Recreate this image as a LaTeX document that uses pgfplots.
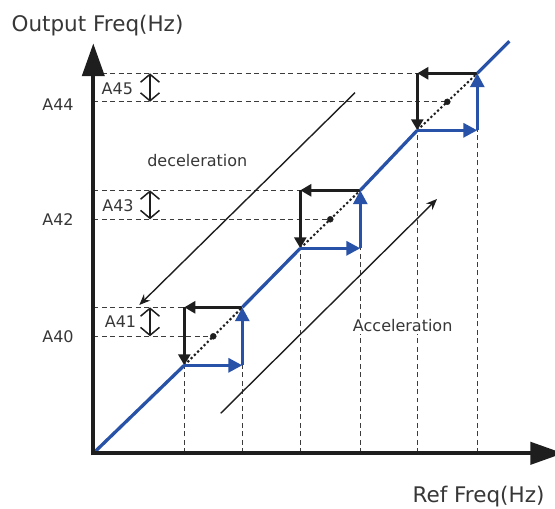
\documentclass[border=0pt]{standalone}
\usepackage{pgfplots}
\pgfplotsset{compat=1.18}
\usepackage{fontspec}
\setmainfont{DejaVu Sans}
\usetikzlibrary{arrows.meta}
\definecolor{blu}{RGB}{40,82,168}
\definecolor{txt}{RGB}{55,55,55}
\definecolor{dsh}{RGB}{60,60,60}
\definecolor{blk}{RGB}{30,30,30}
\tikzset{
 dashg/.style={dsh,line width=1.1pt,dash pattern=on 5pt off 3.5pt},
 bluseg/.style={blu,line width=3.3pt},
 bluarr/.style={blu,line width=3.3pt,-{Triangle[length=14pt,width=14pt]}},
 blkarr/.style={blk,line width=2.7pt,-{Triangle[length=11pt,width=12pt]}},
 dotl/.style={blk,line width=2pt,dash pattern=on 2.2pt off 2.4pt},
 dbl/.style={blk,line width=1.5pt,{Straight Barb[length=8pt,width=19pt]}-{Straight Barb[length=8pt,width=19pt]}},
 lbl/.style={font=\fontsize{16bp}{18bp}\selectfont,text=txt,inner sep=0pt,anchor=base},
 ttl/.style={font=\fontsize{21.5bp}{24bp}\selectfont,text=txt,inner sep=0pt,anchor=base},
}
\begin{document}
\begin{tikzpicture}
\begin{axis}[width=555bp,height=509bp,scale only axis,hide axis,clip=false,
 xmin=-93.3,xmax=461.7,ymin=-55.7,ymax=453.3]
\coordinate (bl) at (rel axis cs:0,0);
\coordinate (tr) at (rel axis cs:1,1);
% dashed guide lines
\addplot[dashg,forget plot] coordinates {(0,146) (91,146)};
\addplot[dashg,forget plot] coordinates {(0,117) (120,117)};
\addplot[dashg,forget plot] coordinates {(0,263) (207,263)};
\addplot[dashg,forget plot] coordinates {(0,234) (237,234)};
\addplot[dashg,forget plot] coordinates {(0,380) (324,380)};
\addplot[dashg,forget plot] coordinates {(0,351.5) (354,351.5)};
\addplot[dashg,forget plot] coordinates {(91,0) (91,88)};
\addplot[dashg,forget plot] coordinates {(149,0) (149,88)};
\addplot[dashg,forget plot] coordinates {(207,0) (207,205)};
\addplot[dashg,forget plot] coordinates {(267,0) (267,205)};
\addplot[dashg,forget plot] coordinates {(324,0) (324,323)};
\addplot[dashg,forget plot] coordinates {(384,0) (384,323)};
% long direction arrows
\addplot[blk,line width=1.4pt,forget plot,-{Stealth[length=11pt,width=9pt]}] coordinates {(261.7,360.6) (46,148.3)};
\addplot[blk,line width=1.4pt,forget plot,-{Stealth[length=11pt,width=9pt]}] coordinates {(127.4,40) (343.7,254.3)};
% dotted diagonals and midpoints
\addplot[dotl,forget plot] coordinates {(91,88) (149,146)};
\addplot[dotl,forget plot] coordinates {(207,205) (267,263)};
\addplot[dotl,forget plot] coordinates {(324,323) (384,380)};
\addplot[only marks,mark=*,mark size=3pt,blk,forget plot] coordinates {(120,117) (237,234) (354,351.5)};
% deceleration path (black)
\addplot[blkarr,forget plot] coordinates {(149,146) (91,146)};
\addplot[blkarr,forget plot] coordinates {(91,146) (91,88)};
\addplot[blkarr,forget plot] coordinates {(267,263) (207,263)};
\addplot[blkarr,forget plot] coordinates {(207,263) (207,205)};
\addplot[blkarr,forget plot] coordinates {(384,380) (324,380)};
\addplot[blkarr,forget plot] coordinates {(324,380) (324,323)};
% acceleration path (blue)
\addplot[bluseg,forget plot] coordinates {(0,0) (91,88)};
\addplot[bluarr,forget plot] coordinates {(91,88) (149,88)};
\addplot[bluarr,forget plot] coordinates {(149,88) (149,146)};
\addplot[bluseg,forget plot] coordinates {(149,146) (207,205)};
\addplot[bluarr,forget plot] coordinates {(207,205) (267,205)};
\addplot[bluarr,forget plot] coordinates {(267,205) (267,263)};
\addplot[bluseg,forget plot] coordinates {(267,263) (324,323)};
\addplot[bluarr,forget plot] coordinates {(324,323) (384,323)};
\addplot[bluarr,forget plot] coordinates {(384,323) (384,380)};
\addplot[bluseg,forget plot] coordinates {(384,380) (416,412)};
% hysteresis double arrows
\addplot[dbl,forget plot] coordinates {(56.7,117) (56.7,146)};
\addplot[dbl,forget plot] coordinates {(56.7,234) (56.7,263)};
\addplot[dbl,forget plot] coordinates {(56.7,351.5) (56.7,380)};
% axes
\addplot[blk,line width=4.3pt,forget plot,-{Triangle[length=33pt,width=22pt]}] coordinates {(0,-2.1) (0,410)};
\addplot[blk,line width=4.3pt,forget plot,-{Triangle[length=33pt,width=22pt]}] coordinates {(-2.1,0) (470,0)};
% labels
\node[lbl] at (axis cs:-35.3,111) {A40};
\node[lbl] at (axis cs:-35.3,228) {A42};
\node[lbl] at (axis cs:-35.3,343) {A44};
\node[lbl] at (axis cs:27.2,126) {A41};
\node[lbl] at (axis cs:24.7,241.6) {A43};
\node[lbl] at (axis cs:24,359) {A45};
\node[lbl] at (axis cs:104,287) {deceleration};
\node[lbl,fill=white,inner sep=2pt] at (axis cs:309.4,121.6) {Acceleration};
\node[ttl] at (axis cs:4.2,421.6) {Output Freq(Hz)};
\node[ttl] at (axis cs:385.2,-49) {Ref Freq(Hz)};
\end{axis}
\pgfresetboundingbox
\useasboundingbox (bl) rectangle (tr);
\end{tikzpicture}
\end{document}
